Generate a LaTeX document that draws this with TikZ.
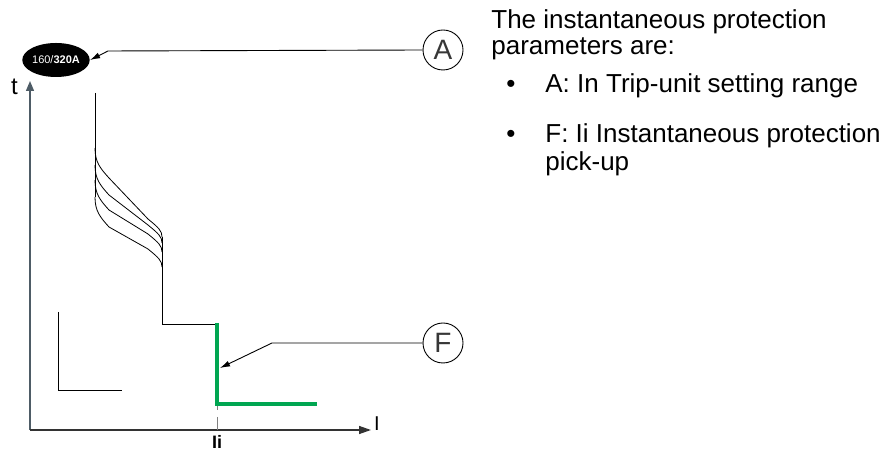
\documentclass[tikz,border=0pt]{standalone}
\usepackage{fontspec}
\setmainfont{Liberation Sans}
\usetikzlibrary{arrows.meta,shapes.geometric}
\definecolor{axisgray}{RGB}{78,92,102}
\definecolor{tripgreen}{RGB}{0,166,81}
\definecolor{letgray}{RGB}{55,55,55}
\tikzset{
  callout/.style={line width=0.9pt, -{Latex[length=10pt,width=6pt]}},
  letter/.style={circle, draw, line width=0.9pt, minimum size=40pt, inner sep=0pt,
    font=\fontsize{28}{28}\selectfont, text=letgray},
  para/.style={anchor=base west, inner sep=0pt, font=\fontsize{26}{28}\selectfont},
}
\begin{document}
\begin{tikzpicture}[x=1pt, y=1pt, line width=0.8pt]
  \useasboundingbox (0,0) rectangle (892,452);
  \def\xa{95}\def\xb{162}\def\xi{217}\def\yk{128}
  % axes
  \coordinate (O) at (30,22);
  \coordinate (tend) at (30,371);
  \coordinate (iend) at (371,22);
  \draw[axisgray, line width=1.4pt, -{Triangle[length=10pt,width=8pt]}] (O) -- (tend);
  \draw[black!80, line width=1.4pt, -{Triangle[length=12pt,width=8pt]}] (O) -- (iend);
  \node[anchor=base, inner sep=0pt, font=\fontsize{24}{24}\selectfont] (tlab) at (14.5,357) {t};
  \node[anchor=base, inner sep=0pt, font=\fontsize{20}{20}\selectfont] (ilab) at (377,21) {I};
  \node[anchor=base, inner sep=0pt, font=\bfseries\fontsize{18}{18}\selectfont] (iilab) at (\xi,3) {Ii};
  \draw[gray, line width=1pt] (\xi,47) -- (\xi,42) (\xi,35) -- (\xi,22);
  % trip curve
  \draw (\xa,359) -- (\xa,255);
  \foreach \ys/\ye in {304/215, 287/209, 272/200, 255/185}
    \draw (\xa,\ys) .. controls (\xa,\ys-14) and (\xa+5,\ys-20) .. (\xa+14,\ys-30)
      -- (\xb-14,\ye+18) .. controls (\xb-3,\ye+9) and (\xb,\ye+6) .. (\xb,\ye);
  \draw (\xb,215) -- (\xb,\yk) -- (\xi,\yk);
  \draw[tripgreen, line width=3.2pt] (\xi,129) -- (\xi,48) -- (317,48);
  \draw (58,140) -- (58,62) -- (122,62);
  % callouts
  \node[ellipse, fill=black, minimum width=59pt, minimum height=34pt, inner sep=0pt,
    text=white, font=\fontsize{11}{11}\selectfont] (rating) at (56,392) {160/\textbf{320A}};
  \node[letter] (cA) at (443,402) {A};
  \node[letter] (cF) at (443,109) {F};
  \coordinate (fpt) at (220,84);
  \draw[callout] (cA.west) -- (108,401) -- (rating.east);
  \draw[callout] (cF.west) -- (272,109) -- (fpt);
  % text
  \node[para] (l1) at (491,423) {The instantaneous protection};
  \node[para] (l2) at (491,397) {parameters are:};
  \node[para] (b1) at (506,359) {•};
  \node[para] (t1) at (545,359) {A: In Trip-unit setting range};
  \node[para] (b2) at (506,309) {•};
  \node[para] (t2) at (545,309) {F: Ii Instantaneous protection};
  \node[para] (t3) at (545,281) {pick-up};
\end{tikzpicture}
\end{document}
